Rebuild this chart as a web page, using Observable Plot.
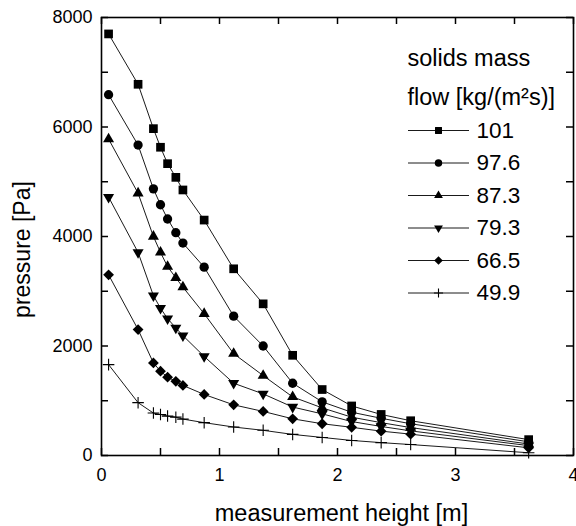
<!DOCTYPE html>
<html><head><meta charset="utf-8">
<script src="https://cdn.jsdelivr.net/npm/d3@7"></script>
<script src="https://cdn.jsdelivr.net/npm/@observablehq/plot@0.6"></script>
<style>body{margin:0;background:#fff} svg{display:block}</style>
</head><body><div id="chart"></div>
<script>
// measurement heights [m]
const heights = [0.06, 0.31, 0.44, 0.50, 0.56, 0.63, 0.69, 0.87, 1.12, 1.37, 1.62, 1.87, 2.12, 2.37, 2.62, 3.62];
// solids mass flow series [kg/(m^2 s)]
const seriesNames = ["101", "97.6", "87.3", "79.3", "66.5", "49.9"];
// pressure [Pa]
const p101  = [7700, 6780, 5970, 5630, 5330, 5080, 4850, 4300, 3410, 2770, 1830, 1205, 905, 750, 635, 290];
const p97_6 = [6590, 5670, 4870, 4580, 4320, 4070, 3880, 3440, 2545, 2000, 1320, 980, 790, 680, 580, 250];
const p87_3 = [5780, 4790, 4000, 3710, 3450, 3245, 3075, 2590, 1860, 1460, 1070, 870, 700, 600, 510, 210];
const p79_3 = [4720, 3710, 2920, 2690, 2500, 2330, 2190, 1810, 1320, 1125, 885, 760, 620, 530, 450, 180];
const p66_5 = [3300, 2300, 1690, 1540, 1430, 1355, 1280, 1115, 925, 805, 670, 580, 515, 445, 390, 140];
const p49_9 = [1660, 965, 775, 750, 720, 700, 665, 600, 520, 460, 385, 330, 275, 235, 200, 50];
const pressures = [p101, p97_6, p87_3, p79_3, p66_5, p49_9];

const xTickLabels = [0, 1, 2, 3, 4];
const xTicks = [0, 0.5, 1, 1.5, 2, 2.5, 3, 3.5, 4];
const yTickLabels = [0, 2000, 4000, 6000, 8000];
const yTicks = [0, 1000, 2000, 3000, 4000, 5000, 6000, 7000, 8000];

const xLabel = "measurement height [m]";
const yLabel = "pressure [Pa]";
const legendTitle1 = "solids mass";
const legendTitle2 = "flow [kg/(m\u00B2s)]";

const font = "Arial, 'Liberation Sans', Helvetica, sans-serif";

const W = 576, H = 526, ML = 101, MR = 3, MT = 17, MB = 71;
const FW = W - ML - MR, FH = H - MT - MB;
const xDomain = [0, 4], yDomain = [0, 8000];
const T = 7; // tick length in px
const tx = T / FW * (xDomain[1] - xDomain[0]);
const ty = T / FH * (yDomain[1] - yDomain[0]);

const rows = [];
seriesNames.forEach((s, i) => heights.forEach((h, j) => rows.push({series: s, h, p: pressures[i][j]})));

// marker styles per series
const styles = [
  {symbol: "square", r: 4.9, rotate: 0, fill: "black", stroke: "none"},
  {symbol: "circle", r: 4.65, rotate: 0, fill: "black", stroke: "none"},
  {symbol: "triangle", r: 4.1, rotate: 0, fill: "black", stroke: "none"},
  {symbol: "triangle", r: 4.1, rotate: 180, fill: "black", stroke: "none"},
  {symbol: "square", r: 4.3, rotate: 45, fill: "black", stroke: "none"},
  {symbol: "plus", r: 3.8, rotate: 0, fill: "none", stroke: "black"}
];

const hline = {draw(ctx) { ctx.moveTo(-30.5, 0); ctx.lineTo(30.5, 0); }};

const marks = [];
marks.push(Plot.line(rows, {x: "h", y: "p", z: "series", stroke: "black", strokeWidth: 0.9}));
seriesNames.forEach((s, i) => {
  const st = styles[i];
  marks.push(Plot.dot(rows.filter(d => d.series === s), {
    x: "h", y: "p", symbol: st.symbol, r: st.r, rotate: st.rotate,
    fill: st.fill, stroke: st.stroke, strokeWidth: 1.1
  }));
});

marks.push(Plot.axisX(xTickLabels, {anchor: "bottom", tickSize: 0, tickPadding: 13, fontSize: 18, label: null, tickFormat: d => String(d)}));
marks.push(Plot.axisY(yTickLabels, {anchor: "left", tickSize: 0, tickPadding: 9, fontSize: 18, label: null, tickFormat: d => String(d)}));
marks.push(Plot.frame({stroke: "black", strokeWidth: 1.6}));

// inward ticks on all four sides (rules in data units)
const tk = {stroke: "black", strokeWidth: 1.5};
marks.push(Plot.ruleX(xTicks, {x: d => d, y1: yDomain[0], y2: yDomain[0] + ty, ...tk}));
marks.push(Plot.ruleX(xTicks, {x: d => d, y1: yDomain[1] - ty, y2: yDomain[1], ...tk}));
marks.push(Plot.ruleY(yTicks, {y: d => d, x1: xDomain[0], x2: xDomain[0] + tx, ...tk}));
marks.push(Plot.ruleY(yTicks, {y: d => d, x1: xDomain[1] - tx, x2: xDomain[1], ...tk}));

// axis titles
marks.push(Plot.text([xLabel], {frameAnchor: "bottom", dx: 4, dy: 57.5, text: d => d, textAnchor: "middle", lineAnchor: "middle", fontSize: 23.5}));
marks.push(Plot.text([yLabel], {frameAnchor: "left", dx: -79, dy: 13, rotate: -90, text: d => d, textAnchor: "middle", lineAnchor: "middle", fontSize: 23}));

// legend
marks.push(Plot.text([legendTitle1], {frameAnchor: "top-left", dx: 306, dy: 41, text: d => d, textAnchor: "start", lineAnchor: "middle", fontSize: 23.5}));
marks.push(Plot.text([legendTitle2], {frameAnchor: "top-left", dx: 306, dy: 80, text: d => d, textAnchor: "start", lineAnchor: "middle", fontSize: 23.5}));
seriesNames.forEach((s, i) => {
  const st = styles[i];
  const dy = 113 + 32.5 * i;
  marks.push(Plot.dot([s], {frameAnchor: "top-left", dx: 337, dy, symbol: hline, r: 5, stroke: "black", strokeWidth: 0.9, fill: "none"}));
  marks.push(Plot.dot([s], {frameAnchor: "top-left", dx: 337, dy, symbol: st.symbol, r: st.r * 0.8, rotate: st.rotate, fill: st.fill, stroke: st.stroke, strokeWidth: 1.1}));
  marks.push(Plot.text([s], {frameAnchor: "top-left", dx: 375, dy, text: d => d, textAnchor: "start", lineAnchor: "middle", fontSize: 22.5}));
});

const chart = Plot.plot({
  width: W,
  height: H,
  marginLeft: ML,
  marginRight: MR,
  marginTop: MT,
  marginBottom: MB,
  style: {fontFamily: font, color: "black", background: "white", overflow: "visible"},
  x: {domain: xDomain, axis: null},
  y: {domain: yDomain, axis: null},
  marks
});
document.getElementById("chart").append(chart);
</script>
</body></html>
